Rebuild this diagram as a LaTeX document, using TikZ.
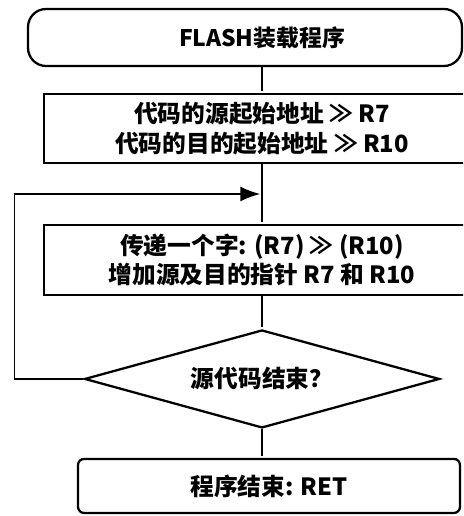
\documentclass[tikz,border=0pt]{standalone}
\usepackage{fontspec}
\setmainfont{Noto Sans CJK SC}
\usetikzlibrary{arrows.meta,positioning,shapes.geometric}

\begin{document}
\begin{tikzpicture}[x=0.02cm,y=-0.02cm,on grid,auto,
  line width=0.9pt,shorten >=1pt,>={Latex[length=4mm,width=3mm]},
  every node/.style={font=\bfseries\fontsize{13.5pt}{17pt}\selectfont,align=center},
  term/.style={draw,line width=1.3pt,rounded corners=0.36cm},
  block/.style={draw,line width=1.3pt,minimum width=8.72cm,minimum height=1.4cm},
  test/.style={draw,diamond,aspect=3.6,line width=1.3pt,minimum width=7.1cm,minimum height=1.96cm,inner sep=0pt}]
  \clip (0,0) rectangle (463,516);
  \node[term,minimum width=8.68cm,minimum height=1.14cm,
    label={[xshift=0.34cm,font=\bfseries\fontsize{13pt}{15pt}\selectfont]center:FLASH装载程序}]
    (start) at (245,37.5) {};
  \node[block,minimum height=1.38cm] (load) at (262,128.5)
    {代码的源起始地址 ≫ R7\\代码的目的起始地址 ≫ R10};
  \node[block] (copy) [below=2.63cm of load]
    {传递一个字: (R7) ≫ (R10)\\增加源及目的指针 R7 和 R10};
  \node[test] (check) [below=2.38cm of copy] {源代码结束？};
  \node[term,rounded corners=0.12cm,minimum width=7.64cm,minimum height=1.08cm]
    (done) [below=2.14cm of check,xshift=0.14cm] {程序结束: RET};
  \coordinate (merge) at (262,194);
  \draw (load.north |- start.south) -- (load);
  \draw (load) -- (copy);
  \draw (copy) -- (check);
  \draw (check) -- (check.south |- done.north);
  \draw[->] (check.west) -- ++(-69,0) |- (merge);
  \end{tikzpicture}
\end{document}
